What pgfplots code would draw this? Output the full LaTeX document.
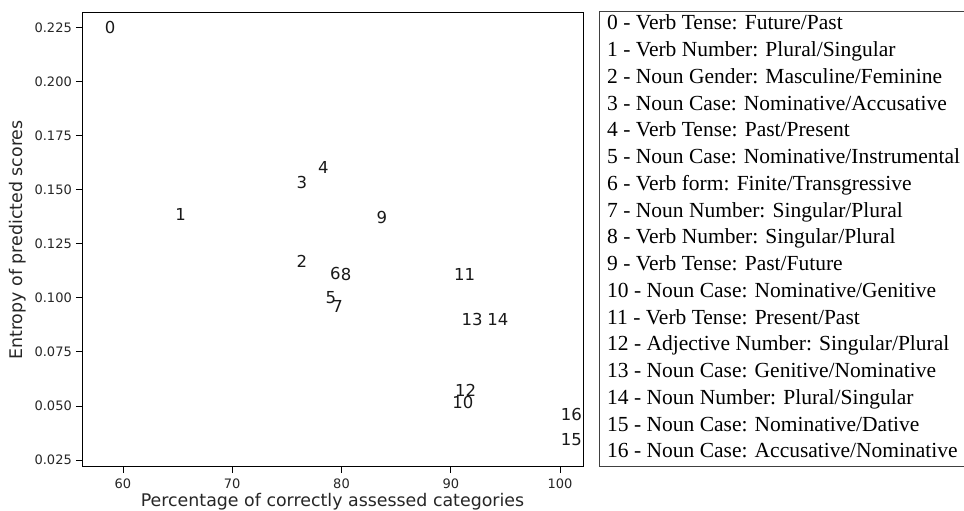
\documentclass[border=0pt]{standalone}
\usepackage{pgfplots}
\pgfplotsset{compat=1.18}
\usepackage{fontspec}
\setmainfont{Liberation Serif}
\newfontfamily\dejavu{DejaVu Sans}
\newcommand\tickfont{\dejavu\fontsize{13bp}{15bp}\selectfont}
\newcommand\labfont{\dejavu\fontsize{17.4bp}{20bp}\selectfont}
\newcommand\annfont{\dejavu\fontsize{16.5bp}{19bp}\selectfont}
\newcommand\legfont{\fontsize{21.5bp}{25bp}\selectfont}

\pgfplotstableread{
x y lab
58.32 0.2222 0
64.78 0.1356 1
75.88 0.1139 2
75.88 0.1506 3
77.83 0.1572 4
78.53 0.0975 5
78.93 0.1085 6
79.14 0.0931 7
79.92 0.1079 8
83.20 0.1344 9
90.13 0.0489 10
90.28 0.1082 11
90.38 0.0543 12
90.98 0.0870 13
93.33 0.0873 14
100.05 0.0317 15
100.05 0.0432 16
}\annot

\begin{document}
\begin{tikzpicture}[x=1bp,y=1bp]
\useasboundingbox (0,0) rectangle (964,511);
\begin{axis}[
  at={(82bp,44bp)}, anchor=south west,
  scale only axis, width=501bp, height=454bp,
  xmin=56.25, xmax=102.1, ymin=0.0218, ymax=0.2316,
  clip=false,
  axis line style={line width=1bp, black},
  tick style={line width=0.9bp, black},
  major tick length=6bp,
  tick align=outside,
  tick pos=left,
  xtick={60,70,80,90,100},
  ytick={0.025,0.05,0.075,0.1,0.125,0.15,0.175,0.2,0.225},
  /pgf/number format/assume math mode=true,
  yticklabel style={/pgf/number format/fixed, /pgf/number format/fixed zerofill, /pgf/number format/precision=3, inner sep=0pt, xshift=-4bp},
  ticklabel style={font=\tickfont, text=black!85},
  xticklabel style={inner sep=0pt, yshift=-6bp},
  xlabel={Percentage of correctly assessed categories},
  ylabel={Entropy of predicted scores},
  every axis x label/.style={at={(axis description cs:0.5,-0.0881)}, anchor=base, font=\labfont, inner sep=0pt, text=black!85},
  every axis y label/.style={at={(axis description cs:-0.1178,0.5)}, rotate=90, anchor=base, font=\labfont, inner sep=0pt, text=black!85},
]
\addplot[only marks, mark=none, nodes near coords, point meta=explicit symbolic,
  nodes near coords style={anchor=base west, inner sep=0pt, font=\annfont, text=black!90}]
  table[x=x, y=y, meta=lab] {\annot};
\end{axis}
\draw[black!75, line width=1bp] (966,499) -- (599.5,499) -- (599.5,44) -- (966,44);
\foreach \t [count=\i from 0] in {
  {0 - Verb Tense: Future/Past},
  {1 - Verb Number: Plural/Singular},
  {2 - Noun Gender: Masculine/Feminine},
  {3 - Noun Case: Nominative/Accusative},
  {4 - Verb Tense: Past/Present},
  {5 - Noun Case: Nominative/Instrumental},
  {6 - Verb form: Finite/Transgressive},
  {7 - Noun Number: Singular/Plural},
  {8 - Verb Number: Singular/Plural},
  {9 - Verb Tense: Past/Future},
  {10 - Noun Case: Nominative/Genitive},
  {11 - Verb Tense: Present/Past},
  {12 - Adjective Number: Singular/Plural},
  {13 - Noun Case: Genitive/Nominative},
  {14 - Noun Number: Plural/Singular},
  {15 - Noun Case: Nominative/Dative},
  {16 - Noun Case: Accusative/Nominative}}
  \node[anchor=base west, inner sep=0pt, font=\legfont] at (607, 481-26.75*\i) {\t};
\end{tikzpicture}
\end{document}
